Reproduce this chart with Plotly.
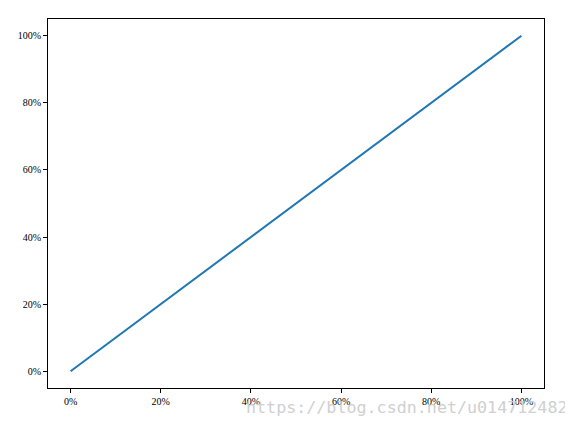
import plotly.graph_objects as go

x_vals = [0.0, 1.0]
y_vals = [0.0, 1.0]
tick_vals = [0.0, 0.2, 0.4, 0.6, 0.8, 1.0]
tick_text = ["0%", "20%", "40%", "60%", "80%", "100%"]
watermark = "https://blog.csdn.net/u014712482"

fig = go.Figure()
fig.add_trace(go.Scatter(x=x_vals, y=y_vals, mode="lines",
                         line=dict(color="#1f77b4", width=2), showlegend=False))

axis_style = dict(
    tickvals=tick_vals, ticktext=tick_text, ticks="outside", ticklen=4,
    tickcolor="black", showgrid=False, zeroline=False, showline=True,
    linecolor="black", linewidth=1, mirror=True,
    tickfont=dict(family="Liberation Serif", size=10, color="black"),
)
fig.update_xaxes(range=[-0.05, 1.05], **axis_style)
fig.update_yaxes(range=[-0.05, 1.05], **axis_style)

# watermark sits over the x tick labels, like in the source image
fig.add_annotation(text=watermark, xref="paper", yref="paper",
                   x=0.396, y=-0.052, xanchor="left", yanchor="middle",
                   showarrow=False,
                   font=dict(family="DejaVu Sans Mono", size=16.7, color="#d0d0d0"))

# page body has an 8px margin, so the figure is a bit smaller than the window
fig.update_layout(
    width=565, height=413,
    margin=dict(l=40, r=29, t=11, b=33),
    plot_bgcolor="white", paper_bgcolor="white",
)
fig.write_html("out.html")
